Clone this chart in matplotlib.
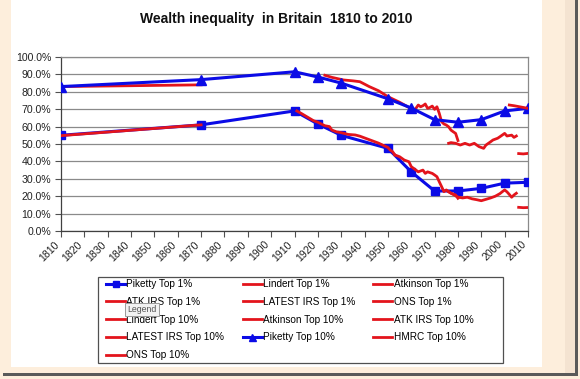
import matplotlib
matplotlib.use('Agg')
import matplotlib.pyplot as plt
from matplotlib.patches import Rectangle
from matplotlib.ticker import PercentFormatter, MultipleLocator

plt.rcParams['font.family'] = ['Liberation Sans', 'DejaVu Sans']

# ---------------- data (percent of wealth) ----------------
piketty_years = [1810, 1870, 1910, 1920, 1930, 1950, 1960, 1970, 1980, 1990, 2000, 2010]
piketty_top1 = [55, 61, 69, 61.5, 55, 47.5, 34, 23, 23, 24.5, 27.5, 28]
piketty_top10 = [83, 87, 91.5, 88.5, 85, 76, 70.7, 64, 62.5, 64, 69, 70.5]

lindert_years = [1810, 1870]
lindert_top1 = [54.8, 61]
lindert_top10 = [83, 84]

atkinson_top1_years = [1911, 1913, 1918, 1920, 1923, 1925, 1926, 1928, 1930, 1933, 1936, 1938,
                       1946, 1950, 1951, 1952, 1953]
atkinson_top1 = [69, 67.5, 63.5, 62.5, 60.5, 60, 58, 57, 56.5, 55.5, 55.2, 54.5,
                 50.5, 48, 46.5, 45.6, 43.7]

atk_irs_top1_years = [1953, 1955, 1957, 1959, 1960, 1962, 1963, 1965, 1966, 1967, 1969, 1970,
                      1971, 1972, 1973, 1974, 1975, 1977, 1979, 1980]
atk_irs_top1 = [43.7, 42.7, 40.8, 39.8, 37, 35, 34, 35, 33.1, 34, 33.1, 32.2,
                31.2, 28.3, 25.5, 22.6, 23.6, 21.7, 20.7, 18.8]

latest_irs_top1_years = [1976, 1978, 1980, 1982, 1984, 1986, 1988, 1990, 1992, 1994, 1996,
                         1998, 1999, 2000, 2001, 2002, 2003, 2004, 2005]
latest_irs_top1 = [22.5, 21, 19.5, 19, 19.4, 18.5, 18, 17.4, 18.2, 19, 20,
                   21.5, 22.6, 23.6, 22.5, 21, 19.4, 20.7, 21.7]

ons_years = [2006, 2008, 2010]
ons_top1 = [13.6, 13.4, 13.5]
ons_top10 = [44.5, 44.3, 44.6]

atkinson_top10_years = [1923, 1926, 1931, 1935, 1938, 1942, 1946, 1950, 1955, 1959, 1961]
atkinson_top10 = [89.5, 88.3, 86.8, 86.3, 85.8, 83, 80.6, 77.2, 74, 71, 69.5]

atk_irs_top10_years = [1961, 1962, 1963, 1964, 1965, 1966, 1967, 1968, 1969, 1970, 1971, 1972,
                       1973, 1974, 1975, 1976, 1977, 1978, 1979, 1980]
atk_irs_top10 = [69.5, 70.5, 72.4, 71.4, 72, 73, 70.5, 71, 71.8, 69.9, 71.4, 67.6,
                 62.8, 61.5, 60.9, 59.9, 58, 57, 56.1, 52.0]

latest_irs_top10_years = [1976, 1977, 1979, 1981, 1983, 1985, 1987, 1989, 1991, 1992, 1994,
                          1995, 1997, 1998, 2000, 2001, 2003, 2004, 2005]
latest_irs_top10 = [50.4, 50.8, 50.4, 49.4, 50.4, 49.4, 50.4, 48.5, 47.5, 49.4, 51.3,
                    52.3, 53.3, 54.2, 56.1, 54.6, 55.1, 53.8, 54.6]

hmrc_years = [2002, 2004, 2006, 2008, 2010]
hmrc_top10 = [72.4, 72, 71.5, 71, 70.5]

x_ticks = list(range(1810, 2011, 10))
title = "Wealth inequality  in Britain  1810 to 2010"

# ---------------- figure ----------------
W, H = 580, 379
fig = plt.figure(figsize=(W / 100, H / 100), dpi=100, facecolor='#FDEEDC')


def rect(x0, y0, x1, y1, **kw):
    r = Rectangle((x0 / W, 1 - y1 / H), (x1 - x0) / W, (y1 - y0) / H,
                  transform=fig.transFigure, **kw)
    fig.patches.append(r)
    return r


rect(11, 0, 542, 367, facecolor='white', edgecolor='none', zorder=-10)
rect(565, 0, 575, 375, facecolor='#F4E3D1', edgecolor='none', zorder=-10)
rect(575, 0, 578, 376, facecolor='#5A5A5A', edgecolor='none', zorder=-9)
rect(3, 373, 578, 376, facecolor='#5A5A5A', edgecolor='none', zorder=-9)

ax = fig.add_axes([61 / W, 1 - 231 / H, (528 - 61) / W, (231 - 57) / H])
ax.set_facecolor('white')

BLUE = '#0B0BE6'
RED = '#E3141C'
RLW = 2.0

series = [
    ("Piketty Top 1%", piketty_years, piketty_top1, dict(color=BLUE, lw=2.2, marker='s', ms=6.2)),
    ("Lindert Top 1%", lindert_years, lindert_top1, dict(color=RED, lw=RLW)),
    ("Atkinson Top 1%", atkinson_top1_years, atkinson_top1, dict(color=RED, lw=RLW)),
    ("ATK IRS Top 1%", atk_irs_top1_years, atk_irs_top1, dict(color=RED, lw=RLW)),
    ("LATEST IRS Top 1%", latest_irs_top1_years, latest_irs_top1, dict(color=RED, lw=RLW)),
    ("ONS Top 1%", ons_years, ons_top1, dict(color=RED, lw=RLW)),
    ("Lindert Top 10%", lindert_years, lindert_top10, dict(color=RED, lw=RLW)),
    ("Atkinson Top 10%", atkinson_top10_years, atkinson_top10, dict(color=RED, lw=RLW)),
    ("ATK IRS Top 10%", atk_irs_top10_years, atk_irs_top10, dict(color=RED, lw=RLW)),
    ("LATEST IRS Top 10%", latest_irs_top10_years, latest_irs_top10, dict(color=RED, lw=RLW)),
    ("Piketty Top 10%", piketty_years, piketty_top10, dict(color=BLUE, lw=2.2, marker='^', ms=7.2)),
    ("HMRC Top 10%", hmrc_years, hmrc_top10, dict(color=RED, lw=RLW)),
    ("ONS Top 10%", ons_years, ons_top10, dict(color=RED, lw=RLW)),
]

handles = []
for i, (lab, xs, ys, st) in enumerate(series):
    ln, = ax.plot(xs, ys, label=lab, zorder=3 + i * 0.01, solid_joinstyle='round', **st)
    handles.append(ln)

ax.set_xlim(1810, 2010)
ax.set_ylim(0, 100)
ax.yaxis.set_major_locator(MultipleLocator(10))
ax.yaxis.set_major_formatter(PercentFormatter(xmax=100, decimals=1))
ax.set_xticks(x_ticks)
ax.set_xticklabels([str(t) for t in x_ticks], rotation=45, ha='right', va='top')
ax.grid(axis='y', color='#8A8A8A', lw=0.9)
ax.grid(axis='x', visible=False)
ax.set_axisbelow(True)
ax.tick_params(axis='both', direction='out', length=4, width=0.8, color='#505050',
               labelsize=7.6, labelcolor='#222222', pad=2)
ax.tick_params(axis='y', pad=3)
for s in ['left', 'bottom']:
    ax.spines[s].set_color('#404040')
    ax.spines[s].set_linewidth(0.9)
for s in ['right', 'top']:
    ax.spines[s].set_color('#8A8A8A')
    ax.spines[s].set_linewidth(0.9)

fig.text(276 / W, 1 - 19 / H, title, ha='center', va='center', fontsize=10,
         fontweight='bold', color='#111111')

# legend frame + legend (row-major order like the original)
rect(98, 277, 503, 363, facecolor='white', edgecolor='#505050', lw=0.9, zorder=1)
order = [0, 3, 6, 9, 12, 1, 4, 7, 10, 2, 5, 8, 11]
leg = fig.legend([handles[i] for i in order], [series[i][0] for i in order],
                 loc='upper left', bbox_to_anchor=(106 / W, 1 - 279 / H),
                 ncol=3, frameon=False, fontsize=7.2, borderpad=0, borderaxespad=0,
                 handlelength=1.9, handletextpad=0.15, columnspacing=1.8,
                 labelspacing=0.78, markerscale=0.7)
leg.set_zorder(5)

fig.text(142 / W, 1 - 309.5 / H, "Legend", ha='center', va='center', fontsize=6.3,
         color='#555555', zorder=10,
         bbox=dict(boxstyle='square,pad=0.25', facecolor='#F2F2F2', edgecolor='#9A9A9A', lw=0.7))

fig.savefig('out.png', dpi=100, facecolor=fig.get_facecolor())
